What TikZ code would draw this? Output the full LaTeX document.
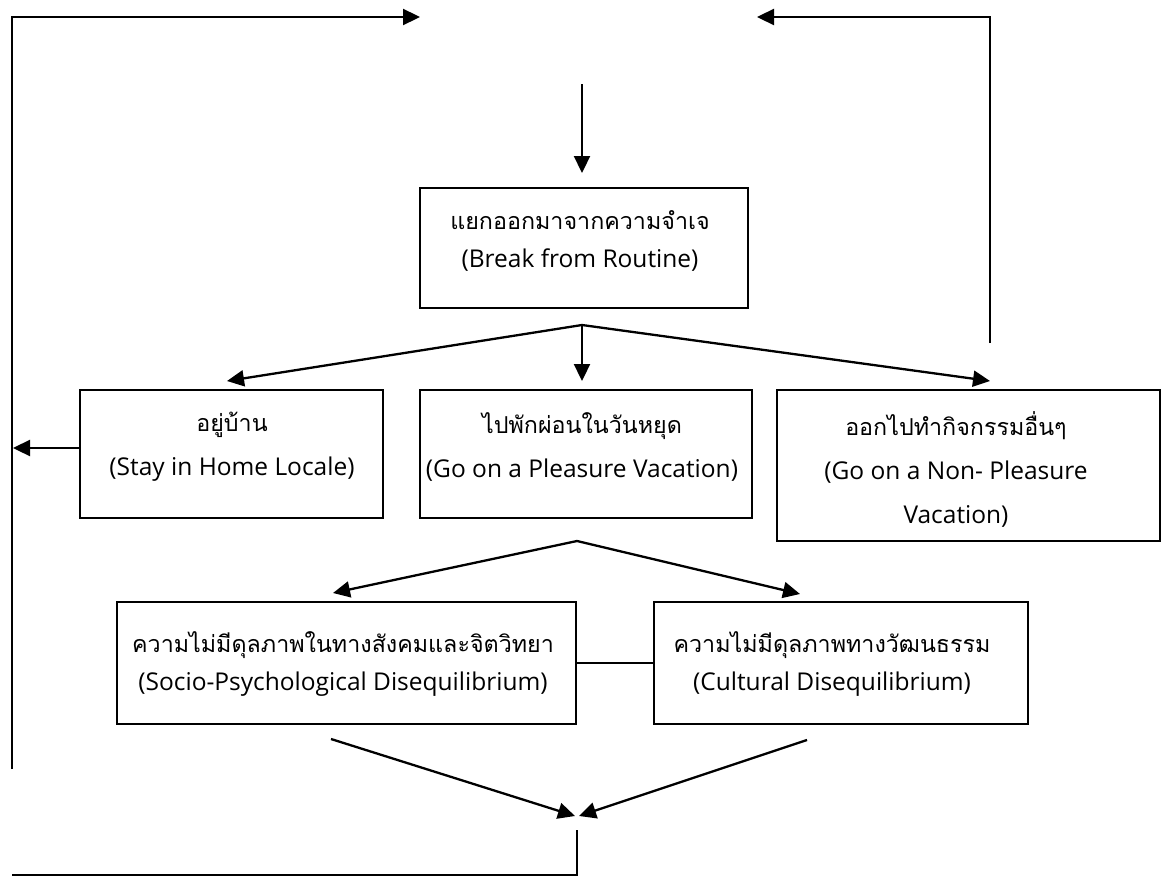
\documentclass[tikz,border=0pt]{standalone}
\usepackage{fontspec}
\setmainfont{Open Sans}
\newfontfamily\thai{Loma}[Script=Thai, Scale=0.95]
\usetikzlibrary{arrows.meta}
\tikzset{
  box/.style={draw, line width=1.8pt, inner sep=0pt},
  txt/.style={align=center, font=\fontsize{24.5}{38}\selectfont, inner sep=0pt},
  txtb/.style={align=center, font=\fontsize{24.5}{44}\selectfont, inner sep=0pt},
  conn/.style={line width=2.3pt, line join=miter},
  arr/.style={conn, -{Triangle[length=17pt,width=16pt]}},
}
\begin{document}
\begin{tikzpicture}[x=1pt, y=-1pt]
\useasboundingbox (0,0) rectangle (1168,878);
% boxes
\node[box, minimum width=328pt, minimum height=120pt] (box1) at (584,248) {};
\node[box, minimum width=303pt, minimum height=128pt] (stay) at (231.5,454) {};
\node[box, minimum width=332pt, minimum height=128pt] (pleas) at (586,454) {};
\node[box, minimum width=383pt, minimum height=151pt] (nonp) at (968.5,465.5) {};
\node[box, minimum width=459pt, minimum height=122pt] (socio) at (346.5,663) {};
\node[box, minimum width=374pt, minimum height=122pt] (cult) at (841,663) {};
% texts
\node[txt] (t1) at (580,241) {{\thai แยกออกมาจากความจำเจ}\\(Break from Routine)};
\node[txtb] (tstay) at (232,447) {{\thai อยู่บ้าน}\\(Stay in Home Locale)};
\node[txtb] (tpleas) at (582,447) {{\thai ไปพักผ่อนในวันหยุด}\\(Go on a Pleasure Vacation)};
\node[txtb] (tnonp) at (956,469) {{\thai ออกไปทำกิจกรรมอื่นๆ}\\(Go on a Non- Pleasure\\Vacation)};
\node[txt] (tsocio) at (343,664) {{\thai ความไม่มีดุลภาพในทางสังคมและจิตวิทยา}\\(Socio-Psychological Disequilibrium)};
\node[txt] (tcult) at (832,664) {{\thai ความไม่มีดุลภาพทางวัฒนธรรม}\\(Cultural Disequilibrium)};
% coordinates
\coordinate (tl) at (12,17);
\coordinate (tlEnd) at (420,17);
\coordinate (lBot) at (12,769);
\coordinate (tr) at (990,17);
\coordinate (trEnd) at (757,17);
\coordinate (rBot) at (990,343);
\coordinate (dTop) at (582,84);
\coordinate (dTip) at (582,173);
\coordinate (f1) at (582,325);
\coordinate (f1a) at (227,381);
\coordinate (f1b) at (582,381);
\coordinate (f1c) at (990,381);
\coordinate (sW) at (80,448);
\coordinate (sTip) at (13,448);
\coordinate (f2) at (577,541);
\coordinate (f2a) at (333,593);
\coordinate (f2b) at (800,594);
\coordinate (c1) at (331,739);
\coordinate (c2) at (807,740);
\coordinate (cTipA) at (575,816);
\coordinate (cTipB) at (579,816);
\coordinate (bTop) at (577,830);
\coordinate (bL) at (12,875);
% connectors
\draw[arr] (lBot) -- (tl) -- (tlEnd);
\draw[arr] (rBot) -- (tr) -- (trEnd);
\draw[arr] (dTop) -- (dTip);
\draw[arr] (f1) -- (f1a);
\draw[arr] (f1) -- (f1b);
\draw[arr] (f1) -- (f1c);
\draw[arr] (sW) -- (sTip);
\draw[arr] (f2) -- (f2a);
\draw[arr] (f2) -- (f2b);
\draw[conn] (socio.east) -- (cult.west);
\draw[arr] (c1) -- (cTipA);
\draw[arr] (c2) -- (cTipB);
\draw[conn] (bTop) |- (bL);
\end{tikzpicture}
\end{document}
